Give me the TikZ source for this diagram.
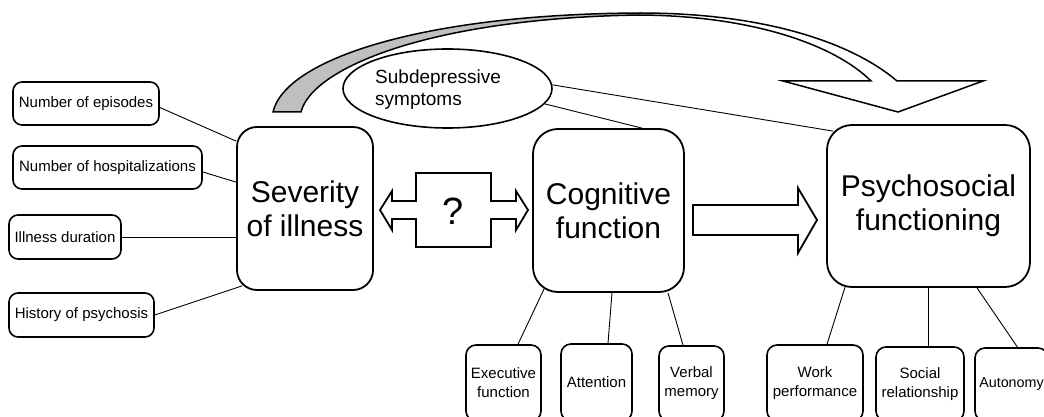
\documentclass[tikz,border=0pt]{standalone}
\usepackage{fontspec}
\setmainfont{Liberation Sans}
\usetikzlibrary{shapes.geometric,calc}
\begin{document}
\begin{tikzpicture}[x=1pt,y=-1pt,
  bigbox/.style={draw,line width=1.8pt,rounded corners=#1,inner sep=0pt,align=center,font=\fontsize{30}{34}\selectfont,fill=white},
  smallbox/.style={draw,line width=1.6pt,rounded corners=9pt,inner sep=0pt,align=center,font=\fontsize{15}{19}\selectfont,fill=white},
  lowbox/.style={draw,line width=1.6pt,rounded corners=10pt,inner sep=0pt,align=center,font=\fontsize{15}{19}\selectfont,fill=white},
  conn/.style={line width=0.9pt},
  fatarrow/.style={draw,line width=1.8pt,fill=white,line join=miter},
  ribbon/.style={line width=1.5pt}
]
\fill[white] (0,0) rectangle (1044,417);
\useasboundingbox (0,0) rectangle (1044,417);

% curved ribbon arrow
\fill[black!25] (273,112) .. controls (285,60) and (420,14) .. (640,13)
  -- (640,15) .. controls (430,18) and (312,68) .. (301,112) -- cycle;
\draw[ribbon] (273,112) .. controls (285,60) and (420,14) .. (640,13)
  .. controls (770,13) and (855,45) .. (897,81) -- (983,81) -- (898,112) -- (783,81) -- (871,81)
  .. controls (838,48) and (760,16) .. (640,15)
  .. controls (430,18) and (312,68) .. (301,112) -- cycle;

% left factor boxes
\node[smallbox,minimum width=146pt,minimum height=43pt] (ep) at (86,103.5) {Number of episodes};
\node[smallbox,minimum width=189pt,minimum height=43pt] (hosp) at (107.5,167.5) {Number of hospitalizations};
\node[smallbox,minimum width=112pt,minimum height=44pt] (dur) at (65,237) {Illness duration};
\node[smallbox,minimum width=145pt,minimum height=44pt] (hist) at (81.5,315) {History of psychosis};

% main boxes
\node[bigbox=20pt,minimum width=136pt,minimum height=163pt] (sev) at (305,208.5) {Severity\\of illness};
\node[bigbox=25pt,minimum width=151pt,minimum height=163pt] (cog) at (608.5,210.5) {Cognitive\\function};
\node[bigbox=25pt,minimum width=203pt,minimum height=162pt] (psy) at (928.5,206) {Psychosocial\\functioning};

% ellipse
\node[draw,ellipse,line width=1.6pt,minimum width=209pt,minimum height=79pt,inner sep=0pt] (sub) at (447.5,88.5) {};
\node[anchor=west,inner sep=0pt,align=left,font=\fontsize{19}{22}\selectfont] (subt) at (375,90) {Subdepressive\\symptoms};

% bottom boxes
\node[lowbox,minimum width=75pt,minimum height=76pt] (exe) at (503.5,383) {Executive\\function};
\node[lowbox,minimum width=71pt,minimum height=77pt] (att) at (596.5,382.5) {Attention};
\node[lowbox,minimum width=65pt,minimum height=75pt] (ver) at (691.5,383.5) {Verbal\\memory};
\node[lowbox,minimum width=96pt,minimum height=76pt] (work) at (815,383) {Work\\performance};
\node[lowbox,minimum width=88pt,minimum height=74pt] (soc) at (920,384) {Social\\relationship};
\node[lowbox,minimum width=73pt,minimum height=73pt,font=\fontsize{14.3}{18}\selectfont] (aut) at (1011.5,384.5) {Autonomy};

% double arrow with ?
\draw[fatarrow] (380,210) -- (392,191) -- (392,201) -- (416,201) -- (416,173) -- (491,173) -- (491,201)
  -- (516,201) -- (516,191) -- (528,210) -- (516,230) -- (516,219) -- (491,219) -- (491,247)
  -- (416,247) -- (416,219) -- (392,219) -- (392,230) -- cycle;
\node[font=\fontsize{38}{40}\selectfont,inner sep=0pt] (q) at (453.5,211) {?};

% right arrow
\draw[fatarrow] (693,205) -- (798,205) -- (798,188) -- (817,220) -- (798,253) -- (798,235) -- (693,235) -- cycle;

% connectors
\draw[conn] ($(ep.east)+(0,4)$) -- ($(sev.north west)+(0,15)$);
\draw[conn] ($(hosp.east)+(0,4.5)$) -- ($(sev.north west)+(0,56)$);
\draw[conn] (dur.east) -- (dur.east -| sev.west);
\draw[conn] (hist.east) -- ($(sev.south west)+(6,-5)$);
\draw[conn] (sub.2) -- ($(psy.north west)+(7,7)$);
\draw[conn] (sub.-9) -- ($(cog.north)+(33.5,0)$);
\draw[conn] ($(cog.south west)+(12,-4)$) -- ($(exe.north)+(14.5,0)$);
\draw[conn] ($(cog.south)+(3.5,0)$) -- ($(att.north)+(11.5,0)$);
\draw[conn] ($(cog.south)+(59.5,0)$) -- ($(ver.north)+(-8.5,0)$);
\draw[conn] ($(psy.south west)+(19,-1)$) -- ($(work.north)+(12,0)$);
\draw[conn] (psy.south) -- (psy.south |- soc.north);
\draw[conn] ($(psy.south)+(48.5,0)$) -- ($(aut.north)+(6,0)$);
\end{tikzpicture}
\end{document}
